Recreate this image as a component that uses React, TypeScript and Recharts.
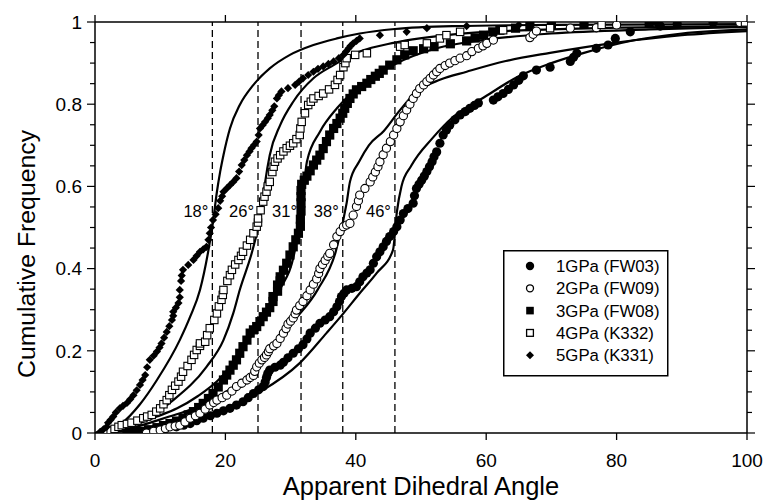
import React from 'react';
import {
    ComposedChart,
    Scatter,
    Line,
    XAxis,
    YAxis,
    ReferenceLine,
    ReferenceDot,
    Legend,
    Label,
} from 'recharts';

const FONT = '"Liberation Sans", Arial, Helvetica, sans-serif';

// measured points [angle, cumulative frequency]
const gpa1: number[][] = [
    [8.9, 0.003], [10.7, 0.009], [12.5, 0.015], [13.6, 0.019], [14.6, 0.023], [15.6, 0.03], [16.6, 0.036],
    [17.7, 0.042], [18.7, 0.048], [19.7, 0.054], [20.7, 0.06], [21.7, 0.068], [22.7, 0.076], [23.5, 0.086],
    [24.3, 0.096], [25.1, 0.105], [25.8, 0.113], [26.1, 0.124], [26.3, 0.135], [26.5, 0.145], [26.8, 0.153],
    [27.6, 0.16], [28.4, 0.165], [28.9, 0.172], [29.6, 0.183], [30.4, 0.194], [31.2, 0.205], [31.9, 0.215],
    [32.5, 0.229], [33.0, 0.243], [33.8, 0.255], [34.5, 0.267], [35.3, 0.275], [36.0, 0.283], [36.6, 0.295],
    [37.1, 0.307], [37.5, 0.32], [37.8, 0.332], [38.2, 0.34], [38.6, 0.348], [39.4, 0.352], [40.1, 0.356],
    [40.6, 0.368], [41.1, 0.38], [41.7, 0.389], [42.2, 0.397], [42.7, 0.413], [43.2, 0.429], [43.7, 0.441],
    [44.2, 0.453], [44.7, 0.466], [45.2, 0.478], [45.8, 0.49], [46.3, 0.502], [46.8, 0.518], [47.3, 0.534],
    [48.0, 0.546], [48.8, 0.559], [49.0, 0.577], [49.3, 0.595], [49.7, 0.605], [50.1, 0.615], [50.5, 0.625],
    [50.9, 0.636], [51.3, 0.648], [51.7, 0.66], [52.0, 0.672], [52.4, 0.684], [52.9, 0.705], [53.4, 0.725],
    [53.9, 0.737], [54.4, 0.749], [55.2, 0.762], [56.0, 0.774], [56.8, 0.782], [57.5, 0.79], [58.2, 0.797],
    [58.8, 0.803], [61.1, 0.81], [61.8, 0.818], [62.6, 0.826], [63.4, 0.836], [64.2, 0.847], [65.0, 0.858],
    [65.7, 0.869], [67.7, 0.883], [69.8, 0.89], [72.9, 0.904], [73.4, 0.914], [73.9, 0.924], [76.9, 0.936],
    [78.7, 0.944], [79.8, 0.96], [82.1, 0.976], [86.7, 0.99], [89.3, 0.995], [94.8, 0.999],
];

const gpa2: number[][] = [
    [7.9, 0.0], [9.0, 0.004], [10.0, 0.007], [10.8, 0.011], [11.5, 0.015], [12.3, 0.017], [13.0, 0.019],
    [13.8, 0.027], [14.6, 0.036], [15.4, 0.042], [16.1, 0.048], [16.9, 0.058], [17.6, 0.068], [18.2, 0.074],
    [18.7, 0.08], [19.5, 0.086], [20.2, 0.092], [21.0, 0.102], [21.7, 0.113], [22.5, 0.121], [23.3, 0.129],
    [23.8, 0.135], [24.3, 0.14], [24.5, 0.15], [24.8, 0.161], [25.2, 0.17], [25.6, 0.178], [26.0, 0.184],
    [26.3, 0.19], [26.6, 0.198], [26.8, 0.205], [27.4, 0.212], [27.9, 0.218], [28.4, 0.23], [28.9, 0.243],
    [29.3, 0.254], [29.6, 0.265], [30.0, 0.272], [30.4, 0.28], [30.7, 0.29], [30.9, 0.299], [31.4, 0.31],
    [31.9, 0.32], [32.5, 0.334], [33.0, 0.348], [33.5, 0.362], [34.0, 0.375], [34.3, 0.388], [34.5, 0.4],
    [34.9, 0.41], [35.3, 0.42], [35.7, 0.43], [36.0, 0.437], [36.6, 0.458], [37.1, 0.478], [37.6, 0.49],
    [38.1, 0.502], [38.6, 0.506], [39.1, 0.51], [39.6, 0.53], [40.1, 0.551], [40.4, 0.565], [40.6, 0.579],
    [41.4, 0.595], [42.2, 0.611], [42.6, 0.623], [43.0, 0.635], [43.4, 0.648], [43.7, 0.66], [44.2, 0.677],
    [44.7, 0.693], [45.3, 0.709], [45.8, 0.725], [46.3, 0.741], [46.8, 0.757], [47.3, 0.772], [47.8, 0.786],
    [48.3, 0.8], [48.8, 0.814], [49.3, 0.826], [49.8, 0.838], [50.4, 0.847], [50.9, 0.855], [51.4, 0.863],
    [51.9, 0.871], [52.4, 0.879], [52.9, 0.887], [53.7, 0.894], [54.4, 0.9], [55.2, 0.906], [56.0, 0.912],
    [57.0, 0.918], [57.8, 0.928], [58.8, 0.936], [59.5, 0.942], [60.1, 0.948], [61.1, 0.956], [66.7, 0.962],
    [67.2, 0.97], [67.7, 0.978], [72.9, 0.985], [76.9, 0.986], [80.0, 0.993], [98.9, 0.999],
];

const gpa3: number[][] = [
    [4.9, 0.0], [6.0, 0.002], [6.9, 0.004], [8.2, 0.008], [9.5, 0.013], [10.5, 0.018], [11.5, 0.023],
    [12.5, 0.029], [13.5, 0.036], [14.3, 0.044], [15.1, 0.052], [15.9, 0.062], [16.6, 0.072], [17.4, 0.084],
    [18.1, 0.096], [18.9, 0.112], [19.7, 0.129], [20.2, 0.141], [20.7, 0.153], [21.2, 0.165], [21.7, 0.178],
    [22.2, 0.194], [22.7, 0.21], [23.3, 0.226], [23.8, 0.243], [24.3, 0.251], [24.8, 0.259], [25.3, 0.271],
    [25.8, 0.283], [26.3, 0.294], [26.8, 0.305], [27.3, 0.32], [27.3, 0.332], [28.0, 0.345], [28.0, 0.36],
    [28.4, 0.37], [28.4, 0.38], [28.9, 0.396], [29.4, 0.413], [29.9, 0.433], [30.4, 0.453], [30.8, 0.47],
    [31.2, 0.486], [31.5, 0.503], [31.5, 0.52], [31.6, 0.54], [31.6, 0.56], [31.6, 0.575], [31.6, 0.59],
    [31.7, 0.605], [32.1, 0.615], [32.5, 0.625], [33.0, 0.638], [33.5, 0.652], [34.0, 0.664], [34.5, 0.676],
    [35.0, 0.692], [35.5, 0.709], [36.0, 0.725], [36.6, 0.741], [37.1, 0.753], [37.6, 0.766], [38.0, 0.778],
    [38.3, 0.79], [38.7, 0.802], [39.1, 0.814], [39.6, 0.825], [40.1, 0.835], [40.9, 0.843], [41.7, 0.851],
    [42.3, 0.86], [43.0, 0.868], [43.6, 0.875], [44.2, 0.883], [45.2, 0.895], [46.3, 0.908], [47.5, 0.92],
    [48.8, 0.93], [50.4, 0.935], [52.0, 0.94], [54.5, 0.947], [57.0, 0.954], [58.3, 0.961], [59.6, 0.968],
    [61.0, 0.976], [62.1, 0.98], [64.5, 0.985], [66.7, 0.989], [70.0, 0.992], [75.0, 0.995], [85.0, 0.998],
    [100, 1.0],
];

const gpa4: number[][] = [
    [1.8, 0.003], [2.4, 0.006], [3.0, 0.01], [3.6, 0.015], [4.1, 0.019], [4.9, 0.022], [5.6, 0.025],
    [6.5, 0.03], [7.4, 0.036], [8.0, 0.04], [8.7, 0.044], [9.4, 0.052], [10.0, 0.06], [10.5, 0.07],
    [11.0, 0.08], [11.4, 0.092], [11.8, 0.105], [12.3, 0.115], [12.8, 0.125], [13.2, 0.137], [13.5, 0.149],
    [14.2, 0.163], [14.8, 0.178], [15.2, 0.19], [15.6, 0.202], [16.1, 0.212], [16.1, 0.218], [16.9, 0.222],
    [17.2, 0.238], [17.6, 0.255], [18.3, 0.275], [18.7, 0.291], [19.0, 0.308], [19.4, 0.324], [19.6, 0.336],
    [19.7, 0.348], [20.3, 0.37], [20.7, 0.384], [21.0, 0.397], [21.5, 0.41], [22.0, 0.421], [22.4, 0.431],
    [22.7, 0.441], [23.3, 0.456], [23.8, 0.47], [24.3, 0.486], [24.8, 0.502], [25.0, 0.512], [25.0, 0.522],
    [25.4, 0.542], [25.8, 0.563], [26.0, 0.575], [26.3, 0.587], [26.5, 0.6], [26.8, 0.611], [27.2, 0.635],
    [27.4, 0.648], [27.6, 0.66], [28.0, 0.668], [28.4, 0.676], [28.9, 0.685], [29.4, 0.693], [29.9, 0.699],
    [30.4, 0.705], [30.9, 0.715], [31.4, 0.725], [31.5, 0.741], [31.7, 0.757], [32.2, 0.778], [32.7, 0.798],
    [33.1, 0.806], [33.5, 0.814], [34.3, 0.82], [35.0, 0.826], [35.9, 0.836], [36.8, 0.847], [37.2, 0.859],
    [37.6, 0.871], [38.1, 0.89], [38.4, 0.9], [38.6, 0.912], [39.9, 0.92], [41.7, 0.924], [46.8, 0.94],
    [47.5, 0.944], [50.9, 0.948], [52.9, 0.96], [53.9, 0.968], [56.0, 0.976], [62.6, 0.98], [69.8, 0.985],
    [77.7, 0.993], [99.7, 0.999],
];

const gpa5: number[][] = [
    [0.8, 0.003], [1.3, 0.009], [1.8, 0.015], [2.0, 0.025], [2.4, 0.032], [2.8, 0.04], [3.2, 0.05],
    [3.8, 0.06], [4.3, 0.066], [4.9, 0.073], [5.4, 0.082], [5.9, 0.092], [6.4, 0.104], [6.9, 0.117],
    [7.3, 0.129], [7.7, 0.141], [8.0, 0.16], [8.4, 0.178], [9.0, 0.188], [9.5, 0.198], [9.9, 0.208],
    [10.2, 0.218], [10.6, 0.232], [11.0, 0.246], [11.4, 0.26], [11.8, 0.275], [12.0, 0.285], [12.0, 0.295],
    [12.4, 0.305], [12.8, 0.316], [13.0, 0.33], [13.0, 0.348], [13.2, 0.37], [13.3, 0.383], [13.5, 0.397],
    [14.3, 0.409], [15.1, 0.421], [15.6, 0.431], [16.1, 0.441], [16.6, 0.447], [17.1, 0.453], [17.4, 0.47],
    [17.6, 0.486], [17.8, 0.5], [18.1, 0.518], [18.5, 0.532], [18.9, 0.547], [19.2, 0.565], [19.5, 0.576],
    [19.7, 0.587], [20.2, 0.595], [20.7, 0.603], [21.2, 0.611], [21.7, 0.62], [22.1, 0.636], [22.5, 0.652],
    [22.9, 0.664], [23.3, 0.676], [23.7, 0.685], [24.0, 0.693], [24.4, 0.701], [24.8, 0.709], [25.1, 0.725],
    [25.3, 0.741], [25.7, 0.749], [26.1, 0.757], [26.5, 0.766], [26.8, 0.774], [27.2, 0.785], [27.5, 0.795],
    [27.9, 0.814], [28.2, 0.822], [28.6, 0.831], [29.6, 0.839], [30.7, 0.847], [31.3, 0.855], [31.9, 0.863],
    [32.7, 0.871], [33.5, 0.879], [34.2, 0.886], [35.0, 0.892], [35.8, 0.898], [36.6, 0.904], [37.4, 0.912],
    [38.1, 0.92], [38.5, 0.928], [38.9, 0.936], [39.2, 0.942], [39.6, 0.948], [40.1, 0.954], [40.6, 0.96],
    [43.7, 0.968], [47.8, 0.976], [50.9, 0.985], [57.0, 0.99], [65.0, 0.993], [86.0, 0.998],
];

// model curves for true dihedral angles
const curve18: number[][] = [
    [0, 0], [2, 0.008], [4.1, 0.024], [6.9, 0.07], [9.5, 0.129], [13, 0.226], [14.6, 0.283], [16.1, 0.348],
    [17.4, 0.445], [18.1, 0.514], [18.7, 0.587], [19.2, 0.636], [19.7, 0.676], [20.7, 0.741], [22.2, 0.798],
    [24.3, 0.847], [26.8, 0.887], [29.9, 0.92], [33.5, 0.944], [37.1, 0.96], [40.6, 0.972], [46, 0.983],
    [55, 0.99], [70, 0.993], [100, 0.995],
];
const curve25: number[][] = [
    [0, 0], [3, 0.01], [5.9, 0.024], [8.4, 0.04], [12, 0.08], [17.1, 0.161], [19.7, 0.226], [21.2, 0.291],
    [22.2, 0.348], [24.3, 0.453], [25.6, 0.547], [26.1, 0.611], [26.8, 0.676], [28.4, 0.749], [30.4, 0.806],
    [33.5, 0.863], [36.6, 0.895], [40.6, 0.928], [46, 0.95], [55, 0.97], [70, 0.982], [100, 0.99],
];
const curve31: number[][] = [
    [0, 0], [4, 0.01], [9.5, 0.04], [12.6, 0.06], [15.8, 0.09], [19, 0.13], [22.1, 0.19], [25.3, 0.27],
    [28.4, 0.35], [30.6, 0.44], [31.8, 0.56], [32.5, 0.66], [34.5, 0.733], [37.1, 0.79], [39.1, 0.823],
    [40.6, 0.843], [45.7, 0.895], [52.4, 0.936], [59.5, 0.956], [70, 0.972], [85, 0.982], [100, 0.988],
];
const curve38: number[][] = [
    [0, 0], [5, 0.01], [11.4, 0.04], [15.2, 0.06], [19, 0.09], [22.8, 0.13], [26.6, 0.19], [30.4, 0.27],
    [34.2, 0.35], [36.9, 0.44], [38.6, 0.56], [39.1, 0.611], [40.5, 0.66], [42, 0.7], [44.3, 0.735],
    [46.5, 0.78], [49.3, 0.83], [53, 0.86], [57, 0.879], [63, 0.905], [69.8, 0.925], [80, 0.95], [90, 0.968],
    [100, 0.978],
];
const curve46: number[][] = [
    [0, 0], [5, 0.005], [10.5, 0.015], [15, 0.035], [20, 0.06], [25.3, 0.1], [31.4, 0.17], [35.5, 0.243],
    [38.1, 0.291], [40.6, 0.34], [43.2, 0.389], [45.7, 0.445], [46.3, 0.538], [47, 0.6], [48.5, 0.65],
    [51.8, 0.718], [55, 0.77], [59.5, 0.815], [65, 0.868], [70, 0.9], [75, 0.925], [82.5, 0.955], [90, 0.972],
    [100, 0.982],
];

const refAngles = [18, 25, 31.6, 38, 46];
const refLabels = ['18°', '26°', '31°', '38°', '46°'];

const legendNames = ['1GPa (FW03)', '2GPa (FW09)', '3GPa (FW08)', '4GPa (K332)', '5GPa (K331)'];

const xTicks = [0, 20, 40, 60, 80, 100];
const yTicks = Array.from({ length: 21 }, (_, i) => i / 20);

const toPts = (arr: number[][]) => arr.map(([x, y]) => ({ x, y }));

const isMajor = (v: number) => Math.abs(v * 5 - Math.round(v * 5)) < 1e-6;
const fmtY = (v: number) => (v === 0 ? '0' : v === 1 ? '1' : v.toFixed(1));

// marker shapes
const FilledCircle = (p: any) => <circle cx={p.cx} cy={p.cy} r={4.6} fill="#000" />;
const OpenCircle = (p: any) => (
    <circle cx={p.cx} cy={p.cy} r={4.1} fill="#fff" stroke="#000" strokeWidth={1.1} />
);
const FilledSquare = (p: any) => (
    <rect x={p.cx - 4.6} y={p.cy - 4.6} width={9.2} height={9.2} fill="#000" />
);
const OpenSquare = (p: any) => (
    <rect x={p.cx - 3.7} y={p.cy - 3.7} width={7.4} height={7.4} fill="#fff" stroke="#000" strokeWidth={1.1} />
);
const Diamond = (p: any) => {
    const s = 4.1;
    return (
        <polygon
            points={`${p.cx},${p.cy - s} ${p.cx + s},${p.cy} ${p.cx},${p.cy + s} ${p.cx - s},${p.cy}`}
            fill="#000"
        />
    );
};

// ticks
const BottomTick = (props: any) => {
    const { x, y, payload } = props;
    return (
        <g>
            <line x1={x} x2={x} y1={y} y2={y + 7} stroke="#000" strokeWidth={1.3} />
            <text x={x} y={y + 34} textAnchor="middle" fontSize={19} fontFamily={FONT} fill="#000">
                {payload.value}
            </text>
        </g>
    );
};
const TopTick = (props: any) => {
    const { x, y } = props;
    return <line x1={x} x2={x} y1={y} y2={y - 7} stroke="#000" strokeWidth={1.3} />;
};
const LeftTick = (props: any) => {
    const { x, y, payload } = props;
    const major = isMajor(payload.value);
    return (
        <g>
            <line x1={x - (major ? 8 : 5)} x2={x} y1={y} y2={y} stroke="#000" strokeWidth={1.2} />
            {major && (
                <text x={x - 13} y={y} dy="0.36em" textAnchor="end" fontSize={19} fontFamily={FONT} fill="#000">
                    {fmtY(payload.value)}
                </text>
            )}
        </g>
    );
};
const RightTick = (props: any) => {
    const { x, y, payload } = props;
    const major = isMajor(payload.value);
    return <line x1={x} x2={x + (major ? 8 : 5)} y1={y} y2={y} stroke="#000" strokeWidth={1.2} />;
};

const legendMarkers = [
    (cx: number, cy: number) => <circle cx={cx} cy={cy} r={4.2} fill="#000" />,
    (cx: number, cy: number) => <circle cx={cx} cy={cy} r={3.5} fill="#fff" stroke="#000" strokeWidth={1.3} />,
    (cx: number, cy: number) => <rect x={cx - 3.8} y={cy - 3.8} width={7.6} height={7.6} fill="#000" />,
    (cx: number, cy: number) => (
        <rect x={cx - 3.4} y={cy - 3.4} width={6.8} height={6.8} fill="#fff" stroke="#000" strokeWidth={1.3} />
    ),
    (cx: number, cy: number) => (
        <polygon points={`${cx},${cy - 4} ${cx + 4},${cy} ${cx},${cy + 4} ${cx - 4},${cy}`} fill="#000" />
    ),
];

const renderLegend = () => (
    <svg width={167} height={128} style={{ display: 'block' }}>
        <rect x={0.75} y={0.75} width={164} height={125} fill="#fff" stroke="#000" strokeWidth={1.5} />
        {legendNames.map((name, i) => {
            const cy = 16 + i * 22.3;
            return (
                <g key={name}>
                    {legendMarkers[i](27, cy)}
                    <text x={53} y={cy} dy="0.36em" fontSize={16.8} fontFamily={FONT} fill="#000">
                        {name}
                    </text>
                </g>
            );
        })}
    </svg>
);

export default function App() {
    const curves = [curve18, curve25, curve31, curve38, curve46];
    return (
        <div style={{ position: 'absolute', left: 0, top: 0, width: 764, height: 500, background: '#fff' }}>
            <ComposedChart width={764} height={500} margin={{ top: 12, right: 7, bottom: 0, left: 0 }}>
                <XAxis
                    type="number"
                    dataKey="x"
                    domain={[0, 100]}
                    ticks={xTicks}
                    interval={0}
                    height={67}
                    tickSize={0}
                    tickMargin={0}
                    tick={<BottomTick />}
                    axisLine={{ stroke: '#000', strokeWidth: 1.5 }}
                    allowDataOverflow
                >
                    <Label
                        content={() => (
                            <text x={421} y={495} textAnchor="middle" fontSize={25.5} fontFamily={FONT} fill="#000">
                                Apparent Dihedral Angle
                            </text>
                        )}
                    />
                </XAxis>
                <XAxis
                    xAxisId="t"
                    orientation="top"
                    type="number"
                    dataKey="x"
                    domain={[0, 100]}
                    ticks={xTicks}
                    interval={0}
                    height={10}
                    tickSize={0}
                    tickMargin={0}
                    tick={<TopTick />}
                    axisLine={{ stroke: '#000', strokeWidth: 1.5 }}
                    allowDataOverflow
                />
                <YAxis
                    type="number"
                    domain={[0, 1]}
                    ticks={yTicks}
                    interval={0}
                    width={95}
                    tickSize={0}
                    tickMargin={0}
                    tick={<LeftTick />}
                    axisLine={{ stroke: '#000', strokeWidth: 1.5 }}
                    allowDataOverflow
                >
                    <Label
                        content={() => (
                            <text
                                x={26}
                                y={254}
                                transform="rotate(-90 26 254)"
                                textAnchor="middle"
                                dy="0.36em"
                                fontSize={24.8}
                                fontFamily={FONT}
                                fill="#000"
                            >
                                Cumulative Frequency
                            </text>
                        )}
                    />
                </YAxis>
                <YAxis
                    yAxisId="r"
                    orientation="right"
                    type="number"
                    domain={[0, 1]}
                    ticks={yTicks}
                    interval={0}
                    width={10}
                    tickSize={0}
                    tickMargin={0}
                    tick={<RightTick />}
                    axisLine={{ stroke: '#000', strokeWidth: 1.5 }}
                    allowDataOverflow
                />

                {refAngles.map((a) => (
                    <ReferenceLine key={`rl-${a}`} x={a} stroke="#000" strokeWidth={1.3} strokeDasharray="7 4" />
                ))}
                {refAngles.map((a, i) => (
                    <ReferenceDot
                        key={`rd-${a}`}
                        x={a}
                        y={0.541}
                        r={0}
                        fill="none"
                        stroke="none"
                        label={{ value: refLabels[i], position: 'left', offset: 4, fontSize: 16.5, fill: '#000', fontFamily: FONT }}
                    />
                ))}

                {curves.map((c, i) => (
                    <Line
                        key={`curve-${i}`}
                        data={toPts(c)}
                        dataKey="y"
                        type="monotone"
                        stroke="#000"
                        strokeWidth={2.2}
                        dot={false}
                        activeDot={false}
                        isAnimationActive={false}
                    />
                ))}

                <Scatter data={toPts(gpa1)} dataKey="y" shape={FilledCircle} isAnimationActive={false} />
                <Scatter data={toPts(gpa3)} dataKey="y" shape={FilledSquare} isAnimationActive={false} />
                <Scatter data={toPts(gpa2)} dataKey="y" shape={OpenCircle} isAnimationActive={false} />
                <Scatter data={toPts(gpa4)} dataKey="y" shape={OpenSquare} isAnimationActive={false} />
                <Scatter data={toPts(gpa5)} dataKey="y" shape={Diamond} isAnimationActive={false} />

                <Legend
                    content={renderLegend}
                    layout="horizontal"
                    verticalAlign="middle"
                    align="center"
                    wrapperStyle={{ left: 503, top: 250, width: 167, height: 128 }}
                />
            </ComposedChart>
        </div>
    );
}
